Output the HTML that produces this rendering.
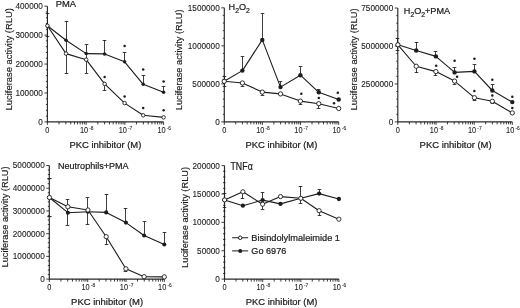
<!DOCTYPE html>
<html><head><meta charset="utf-8"><style>
html,body{margin:0;padding:0;background:#fff;width:520px;height:308px;overflow:hidden}
svg{display:block;will-change:transform;filter:blur(0.3px)}
text{stroke:#1c1c1c;stroke-width:0.22px}
.xl{stroke-width:0.08px}
.yl{stroke-width:0.1px}
.yt{stroke-width:0.16px}
</style></head><body>
<svg width="520" height="308" viewBox="0 0 520 308" font-family='"Liberation Sans", sans-serif' fill="#1c1c1c">
<rect width="520" height="308" fill="#fff"/>
<path d="M47.4 6.2V121.9H163.6" stroke="#2a2a2a" stroke-width="1.15" fill="none"/>
<text class="yl" x="42.8" y="124.85" text-anchor="end" font-size="8.2">0</text>
<text class="yl" x="42.8" y="95.93" text-anchor="end" font-size="8.2">100000</text>
<text class="yl" x="42.8" y="67" text-anchor="end" font-size="8.2">200000</text>
<text class="yl" x="42.8" y="38.08" text-anchor="end" font-size="8.2">300000</text>
<text class="yl" x="42.8" y="9.15" text-anchor="end" font-size="8.2">400000</text>
<path d="M44.4 121.9H47.4M45.9 116.12H47.4M45.9 110.33H47.4M45.9 104.55H47.4M45.9 98.76H47.4M44.4 92.98H47.4M45.9 87.19H47.4M45.9 81.41H47.4M45.9 75.62H47.4M45.9 69.84H47.4M44.4 64.05H47.4M45.9 58.27H47.4M45.9 52.48H47.4M45.9 46.7H47.4M45.9 40.91H47.4M44.4 35.12H47.4M45.9 29.34H47.4M45.9 23.56H47.4M45.9 17.77H47.4M45.9 11.98H47.4M44.4 6.2H47.4" stroke="#1c1c1c" stroke-width="0.85" fill="none"/>
<path d="M59.06 121.9V124.4M65.88 121.9V124.4M70.72 121.9V124.4M74.47 121.9V124.4M77.54 121.9V124.4M80.13 121.9V124.4M82.38 121.9V124.4M84.36 121.9V124.4M86.13 121.9V124.9M97.79 121.9V124.4M104.61 121.9V124.4M109.45 121.9V124.4M113.21 121.9V124.4M116.27 121.9V124.4M118.87 121.9V124.4M121.11 121.9V124.4M123.09 121.9V124.4M124.87 121.9V124.9M136.53 121.9V124.4M143.35 121.9V124.4M148.19 121.9V124.4M151.94 121.9V124.4M155.01 121.9V124.4M157.6 121.9V124.4M159.85 121.9V124.4M161.83 121.9V124.4M163.6 121.9V124.9M47.4 121.9V124.9" stroke="#1c1c1c" stroke-width="0.85" fill="none"/>
<text class="xl" transform="translate(47.4 133.2) scale(0.9 1)" text-anchor="middle" font-size="8.2">0</text>
<text class="xl" transform="translate(79.93 133.2) scale(0.9 1)" font-size="8.2">10<tspan font-size="5.4" dx="1.2" dy="-3.3">-8</tspan></text>
<text class="xl" transform="translate(118.67 133.2) scale(0.9 1)" font-size="8.2">10<tspan font-size="5.4" dx="1.2" dy="-3.3">-7</tspan></text>
<text class="xl" transform="translate(157.4 133.2) scale(0.9 1)" font-size="8.2">10<tspan font-size="5.4" dx="1.2" dy="-3.3">-6</tspan></text>
<text x="69.5" y="147.5" font-size="9.3" textLength="71.8" lengthAdjust="spacingAndGlyphs">PKC inhibitor (M)</text>
<text class="yt" transform="translate(11.6 110.4) rotate(-90)" font-size="9.9" textLength="102.3" lengthAdjust="spacingAndGlyphs">Luciferase activity (RLU)</text>
<text x="55.7" y="7.0" font-size="9.4">PMA</text>
<path d="M47.5 13.7V36M45.7 13.5H49.3M45.7 36.5H49.3M66.5 21.3V73.6M64.7 21.5H68.3M64.7 73.5H68.3M86.5 44.5V73M84.7 44.5H88.3M84.7 73.5H88.3M104.5 40V53.9M102.7 40.5H106.3M104.5 83.9V90.7M102.7 90.5H106.3M124.5 52V61.8M122.7 52.5H126.3M143.5 75.4V84.3M141.7 75.5H145.3M163.5 86.8V92.3M161.7 86.5H165.3" stroke="#1c1c1c" stroke-width="0.85" fill="none"/>
<path d="M47.4 25.75 L66 40.3 L86.2 53.6 L104.6 53.9 L124.6 61.8 L143.2 84.3 L163.6 92.3" stroke="#1c1c1c" stroke-width="1.1" fill="none" stroke-linejoin="round"/>
<path d="M47.4 25.75 L66 53.6 L86.2 59.7 L104.6 83.9 L124.6 103.1 L143.2 115.3 L163.6 117.4" stroke="#1c1c1c" stroke-width="1.1" fill="none" stroke-linejoin="round"/>
<circle cx="47.4" cy="25.75" r="1.75" fill="#1c1c1c"/>
<circle cx="66" cy="40.3" r="1.75" fill="#1c1c1c"/>
<circle cx="86.2" cy="53.6" r="1.75" fill="#1c1c1c"/>
<circle cx="104.6" cy="53.9" r="1.75" fill="#1c1c1c"/>
<circle cx="124.6" cy="61.8" r="1.75" fill="#1c1c1c"/>
<circle cx="143.2" cy="84.3" r="1.75" fill="#1c1c1c"/>
<circle cx="163.6" cy="92.3" r="1.75" fill="#1c1c1c"/>
<circle cx="47.4" cy="25.75" r="1.75" fill="#fff" stroke="#1c1c1c" stroke-width="0.9"/>
<circle cx="66" cy="53.6" r="1.75" fill="#fff" stroke="#1c1c1c" stroke-width="0.9"/>
<circle cx="86.2" cy="59.7" r="1.75" fill="#fff" stroke="#1c1c1c" stroke-width="0.9"/>
<circle cx="104.6" cy="83.9" r="1.75" fill="#fff" stroke="#1c1c1c" stroke-width="0.9"/>
<circle cx="124.6" cy="103.1" r="1.75" fill="#fff" stroke="#1c1c1c" stroke-width="0.9"/>
<circle cx="143.2" cy="115.3" r="1.75" fill="#fff" stroke="#1c1c1c" stroke-width="0.9"/>
<circle cx="163.6" cy="117.4" r="1.75" fill="#fff" stroke="#1c1c1c" stroke-width="0.9"/>
<circle cx="124.6" cy="45.9" r="1.25" fill="#1c1c1c"/>
<circle cx="143.2" cy="69.5" r="1.25" fill="#1c1c1c"/>
<circle cx="163.6" cy="81.5" r="1.25" fill="#1c1c1c"/>
<circle cx="104.6" cy="77" r="1.25" fill="#1c1c1c"/>
<circle cx="124.6" cy="96.4" r="1.25" fill="#1c1c1c"/>
<circle cx="143.2" cy="108.1" r="1.25" fill="#1c1c1c"/>
<circle cx="163.6" cy="110.2" r="1.25" fill="#1c1c1c"/>
<path d="M224.3 7.8V121.9H338.7" stroke="#2a2a2a" stroke-width="1.15" fill="none"/>
<text class="yl" x="219.7" y="124.85" text-anchor="end" font-size="8.2">0</text>
<text class="yl" x="219.7" y="86.82" text-anchor="end" font-size="8.2">500000</text>
<text class="yl" x="219.7" y="48.78" text-anchor="end" font-size="8.2">1000000</text>
<text class="yl" x="219.7" y="10.75" text-anchor="end" font-size="8.2">1500000</text>
<path d="M221.3 121.9H224.3M222.8 114.29H224.3M222.8 106.69H224.3M222.8 99.08H224.3M222.8 91.47H224.3M221.3 83.87H224.3M222.8 76.26H224.3M222.8 68.65H224.3M222.8 61.05H224.3M222.8 53.44H224.3M221.3 45.83H224.3M222.8 38.23H224.3M222.8 30.62H224.3M222.8 23.01H224.3M222.8 15.41H224.3M221.3 7.8H224.3" stroke="#1c1c1c" stroke-width="0.85" fill="none"/>
<path d="M235.69 121.9V124.4M242.41 121.9V124.4M247.18 121.9V124.4M250.88 121.9V124.4M253.9 121.9V124.4M256.45 121.9V124.4M258.67 121.9V124.4M260.62 121.9V124.4M262.37 121.9V124.9M273.86 121.9V124.4M280.58 121.9V124.4M285.35 121.9V124.4M289.04 121.9V124.4M292.07 121.9V124.4M294.62 121.9V124.4M296.83 121.9V124.4M298.79 121.9V124.4M300.53 121.9V124.9M312.02 121.9V124.4M318.74 121.9V124.4M323.51 121.9V124.4M327.21 121.9V124.4M330.23 121.9V124.4M332.79 121.9V124.4M335 121.9V124.4M336.95 121.9V124.4M338.7 121.9V124.9M224.3 121.9V124.9" stroke="#1c1c1c" stroke-width="0.85" fill="none"/>
<text class="xl" transform="translate(224.3 133.2) scale(0.9 1)" text-anchor="middle" font-size="8.2">0</text>
<text class="xl" transform="translate(256.17 133.2) scale(0.9 1)" font-size="8.2">10<tspan font-size="5.4" dx="1.2" dy="-3.3">-8</tspan></text>
<text class="xl" transform="translate(294.33 133.2) scale(0.9 1)" font-size="8.2">10<tspan font-size="5.4" dx="1.2" dy="-3.3">-7</tspan></text>
<text class="xl" transform="translate(332.5 133.2) scale(0.9 1)" font-size="8.2">10<tspan font-size="5.4" dx="1.2" dy="-3.3">-6</tspan></text>
<text x="245.5" y="147.5" font-size="9.3" textLength="71.8" lengthAdjust="spacingAndGlyphs">PKC inhibitor (M)</text>
<text class="yt" transform="translate(182.3 110.2) rotate(-90)" font-size="9.9" textLength="100.8" lengthAdjust="spacingAndGlyphs">Luciferase activity (RLU)</text>
<text x="228.6" y="9.9" font-size="9.1">H<tspan font-size="6.8" dy="3.1">2</tspan><tspan dy="-3.1">O</tspan><tspan font-size="6.8" dy="3.1">2</tspan></text>
<path d="M224.5 76.5V86M222.7 76.5H226.3M222.7 86.5H226.3M242.5 56.8V70.6M240.7 56.5H244.3M242.5 83V86M240.7 86.5H244.3M262.5 13.4V39.9M260.7 13.5H264.3M262.5 92.1V95.2M260.7 95.5H264.3M280.5 81.8V87.1M278.7 81.5H282.3M300.5 66.8V75.2M298.7 66.5H302.3M300.5 101.1V104.7M298.7 104.5H302.3M318.5 89.5V92.3M316.7 89.5H320.3M318.5 103.7V108.1M316.7 108.5H320.3" stroke="#1c1c1c" stroke-width="0.85" fill="none"/>
<path d="M224.2 81.3 L242.4 70.6 L262.3 39.9 L280.5 87.1 L300.4 75.2 L318.8 92.3 L338.7 99.5" stroke="#1c1c1c" stroke-width="1.1" fill="none" stroke-linejoin="round"/>
<path d="M224.2 81.3 L242.4 83 L262.3 92.1 L280.5 93.9 L300.4 101.1 L318.8 103.7 L338.7 108.5" stroke="#1c1c1c" stroke-width="1.1" fill="none" stroke-linejoin="round"/>
<circle cx="224.2" cy="81.3" r="2.2" fill="#1c1c1c"/>
<circle cx="242.4" cy="70.6" r="2.2" fill="#1c1c1c"/>
<circle cx="262.3" cy="39.9" r="2.2" fill="#1c1c1c"/>
<circle cx="280.5" cy="87.1" r="2.2" fill="#1c1c1c"/>
<circle cx="300.4" cy="75.2" r="2.2" fill="#1c1c1c"/>
<circle cx="318.8" cy="92.3" r="2.2" fill="#1c1c1c"/>
<circle cx="338.7" cy="99.5" r="2.2" fill="#1c1c1c"/>
<circle cx="224.2" cy="81.3" r="2.15" fill="#fff" stroke="#1c1c1c" stroke-width="0.9"/>
<circle cx="242.4" cy="83" r="2.15" fill="#fff" stroke="#1c1c1c" stroke-width="0.9"/>
<circle cx="262.3" cy="92.1" r="2.15" fill="#fff" stroke="#1c1c1c" stroke-width="0.9"/>
<circle cx="280.5" cy="93.9" r="2.15" fill="#fff" stroke="#1c1c1c" stroke-width="0.9"/>
<circle cx="300.4" cy="101.1" r="2.15" fill="#fff" stroke="#1c1c1c" stroke-width="0.9"/>
<circle cx="318.8" cy="103.7" r="2.15" fill="#fff" stroke="#1c1c1c" stroke-width="0.9"/>
<circle cx="338.7" cy="108.5" r="2.15" fill="#fff" stroke="#1c1c1c" stroke-width="0.9"/>
<circle cx="301.3" cy="93.8" r="1.25" fill="#1c1c1c"/>
<circle cx="318.8" cy="98" r="1.25" fill="#1c1c1c"/>
<circle cx="337.8" cy="92.7" r="1.25" fill="#1c1c1c"/>
<circle cx="334" cy="103.2" r="1.25" fill="#1c1c1c"/>
<path d="M397.8 8.05V121.9H512.3" stroke="#2a2a2a" stroke-width="1.15" fill="none"/>
<text class="yl" x="393.2" y="124.85" text-anchor="end" font-size="8.2">0</text>
<text class="yl" x="393.2" y="86.9" text-anchor="end" font-size="8.2">2500000</text>
<text class="yl" x="393.2" y="48.95" text-anchor="end" font-size="8.2">5000000</text>
<text class="yl" x="393.2" y="11" text-anchor="end" font-size="8.2">7500000</text>
<path d="M394.8 121.9H397.8M396.3 114.31H397.8M396.3 106.72H397.8M396.3 99.13H397.8M396.3 91.54H397.8M394.8 83.95H397.8M396.3 76.36H397.8M396.3 68.77H397.8M396.3 61.18H397.8M396.3 53.59H397.8M394.8 46H397.8M396.3 38.41H397.8M396.3 30.82H397.8M396.3 23.23H397.8M396.3 15.64H397.8M394.8 8.05H397.8" stroke="#1c1c1c" stroke-width="0.85" fill="none"/>
<path d="M409.38 121.9V124.4M416.09 121.9V124.4M420.86 121.9V124.4M424.55 121.9V124.4M427.57 121.9V124.4M430.13 121.9V124.4M432.34 121.9V124.4M434.29 121.9V124.4M436.03 121.9V124.9M447.51 121.9V124.4M454.23 121.9V124.4M458.99 121.9V124.4M462.69 121.9V124.4M465.71 121.9V124.4M468.26 121.9V124.4M470.47 121.9V124.4M472.42 121.9V124.4M474.17 121.9V124.9M485.65 121.9V124.4M492.36 121.9V124.4M497.13 121.9V124.4M500.82 121.9V124.4M503.84 121.9V124.4M506.39 121.9V124.4M508.6 121.9V124.4M510.56 121.9V124.4M512.3 121.9V124.9M397.8 121.9V124.9" stroke="#1c1c1c" stroke-width="0.85" fill="none"/>
<text class="xl" transform="translate(397.8 133.2) scale(0.9 1)" text-anchor="middle" font-size="8.2">0</text>
<text class="xl" transform="translate(429.83 133.2) scale(0.9 1)" font-size="8.2">10<tspan font-size="5.4" dx="1.2" dy="-3.3">-8</tspan></text>
<text class="xl" transform="translate(467.97 133.2) scale(0.9 1)" font-size="8.2">10<tspan font-size="5.4" dx="1.2" dy="-3.3">-7</tspan></text>
<text class="xl" transform="translate(506.1 133.2) scale(0.9 1)" font-size="8.2">10<tspan font-size="5.4" dx="1.2" dy="-3.3">-6</tspan></text>
<text x="419.6" y="147.5" font-size="9.3" textLength="72" lengthAdjust="spacingAndGlyphs">PKC inhibitor (M)</text>
<text class="yt" transform="translate(357.2 110.4) rotate(-90)" font-size="9.9" textLength="102" lengthAdjust="spacingAndGlyphs">Luciferase activity (RLU)</text>
<text x="403.8" y="14.3" font-size="9.1">H<tspan font-size="6.8" dy="3.1">2</tspan><tspan dy="-3.1">O</tspan><tspan font-size="6.8" dy="3.1">2</tspan><tspan dy="-3.1">+PMA</tspan></text>
<path d="M397.5 38.6V50M395.7 38.5H399.3M395.7 50.5H399.3M416.5 42.1V50.5M414.7 42.5H418.3M416.5 66.25V72.9M414.7 72.5H418.3M435.5 51.8V56.4M433.7 51.5H437.3M435.5 71.6V75.5M433.7 75.5H437.3M454.5 67.9V72.4M452.7 67.5H456.3M454.5 81.1V84M452.7 84.5H456.3M474.5 64.6V71.4M472.7 64.5H476.3M474.5 97.7V100.4M472.7 100.5H476.3M492.5 84.6V90.5M490.7 84.5H494.3M492.5 101.25V103.9M490.7 103.5H494.3" stroke="#1c1c1c" stroke-width="0.85" fill="none"/>
<path d="M397.9 44.8 L416.2 50.5 L435.9 56.4 L454.6 72.4 L474.4 71.4 L492.3 90.5 L512.3 102.1" stroke="#1c1c1c" stroke-width="1.1" fill="none" stroke-linejoin="round"/>
<path d="M397.9 44.8 L416.2 66.25 L435.9 71.6 L454.6 81.1 L474.4 97.7 L492.3 101.25 L512.3 112.9" stroke="#1c1c1c" stroke-width="1.1" fill="none" stroke-linejoin="round"/>
<circle cx="397.9" cy="44.8" r="2.2" fill="#1c1c1c"/>
<circle cx="416.2" cy="50.5" r="2.2" fill="#1c1c1c"/>
<circle cx="435.9" cy="56.4" r="2.2" fill="#1c1c1c"/>
<circle cx="454.6" cy="72.4" r="2.2" fill="#1c1c1c"/>
<circle cx="474.4" cy="71.4" r="2.2" fill="#1c1c1c"/>
<circle cx="492.3" cy="90.5" r="2.2" fill="#1c1c1c"/>
<circle cx="512.3" cy="102.1" r="2.2" fill="#1c1c1c"/>
<circle cx="397.9" cy="44.8" r="2.15" fill="#fff" stroke="#1c1c1c" stroke-width="0.9"/>
<circle cx="416.2" cy="66.25" r="2.15" fill="#fff" stroke="#1c1c1c" stroke-width="0.9"/>
<circle cx="435.9" cy="71.6" r="2.15" fill="#fff" stroke="#1c1c1c" stroke-width="0.9"/>
<circle cx="454.6" cy="81.1" r="2.15" fill="#fff" stroke="#1c1c1c" stroke-width="0.9"/>
<circle cx="474.4" cy="97.7" r="2.15" fill="#fff" stroke="#1c1c1c" stroke-width="0.9"/>
<circle cx="492.3" cy="101.25" r="2.15" fill="#fff" stroke="#1c1c1c" stroke-width="0.9"/>
<circle cx="512.3" cy="112.9" r="2.15" fill="#fff" stroke="#1c1c1c" stroke-width="0.9"/>
<circle cx="436.2" cy="65.7" r="1.25" fill="#1c1c1c"/>
<circle cx="454.6" cy="60.7" r="1.25" fill="#1c1c1c"/>
<circle cx="474.4" cy="58.8" r="1.25" fill="#1c1c1c"/>
<circle cx="457.1" cy="76.7" r="1.25" fill="#1c1c1c"/>
<circle cx="474.4" cy="91" r="1.25" fill="#1c1c1c"/>
<circle cx="492.3" cy="79.8" r="1.25" fill="#1c1c1c"/>
<circle cx="492.3" cy="95.4" r="1.25" fill="#1c1c1c"/>
<circle cx="512.3" cy="96.8" r="1.25" fill="#1c1c1c"/>
<circle cx="512.3" cy="107.9" r="1.25" fill="#1c1c1c"/>
<path d="M49.3 165.5V279.1H164.3" stroke="#2a2a2a" stroke-width="1.15" fill="none"/>
<text class="yl" x="44.7" y="282.05" text-anchor="end" font-size="8.2">0</text>
<text class="yl" x="44.7" y="259.33" text-anchor="end" font-size="8.2">1000000</text>
<text class="yl" x="44.7" y="236.61" text-anchor="end" font-size="8.2">2000000</text>
<text class="yl" x="44.7" y="213.89" text-anchor="end" font-size="8.2">3000000</text>
<text class="yl" x="44.7" y="191.17" text-anchor="end" font-size="8.2">4000000</text>
<text class="yl" x="44.7" y="168.45" text-anchor="end" font-size="8.2">5000000</text>
<path d="M46.3 279.1H49.3M47.8 274.56H49.3M47.8 270.01H49.3M47.8 265.47H49.3M47.8 260.92H49.3M46.3 256.38H49.3M47.8 251.84H49.3M47.8 247.29H49.3M47.8 242.75H49.3M47.8 238.2H49.3M46.3 233.66H49.3M47.8 229.12H49.3M47.8 224.57H49.3M47.8 220.03H49.3M47.8 215.48H49.3M46.3 210.94H49.3M47.8 206.4H49.3M47.8 201.85H49.3M47.8 197.31H49.3M47.8 192.76H49.3M46.3 188.22H49.3M47.8 183.68H49.3M47.8 179.13H49.3M47.8 174.59H49.3M47.8 170.04H49.3M46.3 165.5H49.3" stroke="#1c1c1c" stroke-width="0.85" fill="none"/>
<path d="M60.93 279.1V281.6M67.67 279.1V281.6M72.46 279.1V281.6M76.17 279.1V281.6M79.2 279.1V281.6M81.77 279.1V281.6M83.99 279.1V281.6M85.95 279.1V281.6M87.7 279.1V282.1M99.23 279.1V281.6M105.97 279.1V281.6M110.76 279.1V281.6M114.47 279.1V281.6M117.5 279.1V281.6M120.07 279.1V281.6M122.29 279.1V281.6M124.25 279.1V281.6M126 279.1V282.1M137.53 279.1V281.6M144.27 279.1V281.6M149.06 279.1V281.6M152.77 279.1V281.6M155.8 279.1V281.6M158.37 279.1V281.6M160.59 279.1V281.6M162.55 279.1V281.6M164.3 279.1V282.1M49.3 279.1V282.1" stroke="#1c1c1c" stroke-width="0.85" fill="none"/>
<text class="xl" transform="translate(49.3 290.4) scale(0.9 1)" text-anchor="middle" font-size="8.2">0</text>
<text class="xl" transform="translate(81.5 290.4) scale(0.9 1)" font-size="8.2">10<tspan font-size="5.4" dx="1.2" dy="-3.3">-8</tspan></text>
<text class="xl" transform="translate(119.8 290.4) scale(0.9 1)" font-size="8.2">10<tspan font-size="5.4" dx="1.2" dy="-3.3">-7</tspan></text>
<text class="xl" transform="translate(158.1 290.4) scale(0.9 1)" font-size="8.2">10<tspan font-size="5.4" dx="1.2" dy="-3.3">-6</tspan></text>
<text x="71.1" y="305.2" font-size="9.3" textLength="72" lengthAdjust="spacingAndGlyphs">PKC inhibitor (M)</text>
<text class="yt" transform="translate(8.1 267.5) rotate(-90)" font-size="9.9" textLength="101.1" lengthAdjust="spacingAndGlyphs">Luciferase activity (RLU)</text>
<text x="58.0" y="169.3" font-size="9.2" textLength="70.6" lengthAdjust="spacingAndGlyphs">Neutrophils+PMA</text>
<path d="M67.5 199.3V225.2M65.7 199.5H69.3M65.7 225.5H69.3M87.5 197.9V224.3M85.7 197.5H89.3M85.7 224.5H89.3M106.5 194.5V212.4M104.7 194.5H108.3M106.5 236.7V244.7M104.7 244.5H108.3M125.5 208.2V222.6M123.7 208.5H127.3M125.5 268.8V271.4M123.7 271.5H127.3M144.5 221.8V235.5M142.7 221.5H146.3M164.5 232V244.5M162.7 232.5H166.3" stroke="#1c1c1c" stroke-width="0.85" fill="none"/>
<path d="M49.4 197.5 L67.9 212.7 L87.9 211.8 L106.2 212.4 L125.9 222.6 L144.1 235.5 L164.3 244.5" stroke="#1c1c1c" stroke-width="1.1" fill="none" stroke-linejoin="round"/>
<path d="M49.4 197.5 L67.9 206.8 L87.9 210 L106.2 236.7 L125.9 268.8 L144.1 276.7 L164.3 276.9" stroke="#1c1c1c" stroke-width="1.1" fill="none" stroke-linejoin="round"/>
<circle cx="49.4" cy="197.5" r="2.05" fill="#1c1c1c"/>
<circle cx="67.9" cy="212.7" r="2.05" fill="#1c1c1c"/>
<circle cx="87.9" cy="211.8" r="2.05" fill="#1c1c1c"/>
<circle cx="106.2" cy="212.4" r="2.05" fill="#1c1c1c"/>
<circle cx="125.9" cy="222.6" r="2.05" fill="#1c1c1c"/>
<circle cx="144.1" cy="235.5" r="2.05" fill="#1c1c1c"/>
<circle cx="164.3" cy="244.5" r="2.05" fill="#1c1c1c"/>
<circle cx="49.4" cy="197.5" r="2.15" fill="#fff" stroke="#1c1c1c" stroke-width="0.9"/>
<circle cx="67.9" cy="206.8" r="2.15" fill="#fff" stroke="#1c1c1c" stroke-width="0.9"/>
<circle cx="87.9" cy="210" r="2.15" fill="#fff" stroke="#1c1c1c" stroke-width="0.9"/>
<circle cx="106.2" cy="236.7" r="2.15" fill="#fff" stroke="#1c1c1c" stroke-width="0.9"/>
<circle cx="125.9" cy="268.8" r="2.15" fill="#fff" stroke="#1c1c1c" stroke-width="0.9"/>
<circle cx="144.1" cy="276.7" r="2.15" fill="#fff" stroke="#1c1c1c" stroke-width="0.9"/>
<circle cx="164.3" cy="276.9" r="2.15" fill="#fff" stroke="#1c1c1c" stroke-width="0.9"/>
<path d="M224.5 165.6V279.1H338.9" stroke="#2a2a2a" stroke-width="1.15" fill="none"/>
<text class="yl" x="219.9" y="282.05" text-anchor="end" font-size="8.2">0</text>
<text class="yl" x="219.9" y="253.68" text-anchor="end" font-size="8.2">50000</text>
<text class="yl" x="219.9" y="225.3" text-anchor="end" font-size="8.2">100000</text>
<text class="yl" x="219.9" y="196.93" text-anchor="end" font-size="8.2">150000</text>
<text class="yl" x="219.9" y="168.55" text-anchor="end" font-size="8.2">200000</text>
<path d="M221.5 279.1H224.5M223 273.43H225.4M223 267.75H225.4M223 262.08H225.4M223 256.4H225.4M221.5 250.73H224.5M223 245.05H225.4M223 239.38H225.4M223 233.7H225.4M223 228.03H225.4M221.5 222.35H224.5M223 216.68H225.4M223 211H225.4M223 205.32H225.4M223 199.65H225.4M221.5 193.98H224.5M223 188.3H225.4M223 182.62H225.4M223 176.95H225.4M223 171.28H225.4M221.5 165.6H224.5" stroke="#1c1c1c" stroke-width="0.85" fill="none"/>
<path d="M236.07 279.1V281.6M242.78 279.1V281.6M247.54 279.1V281.6M251.23 279.1V281.6M254.25 279.1V281.6M256.8 279.1V281.6M259.01 279.1V281.6M260.96 279.1V281.6M262.7 279.1V282.1M274.17 279.1V281.6M280.88 279.1V281.6M285.64 279.1V281.6M289.33 279.1V281.6M292.35 279.1V281.6M294.9 279.1V281.6M297.11 279.1V281.6M299.06 279.1V281.6M300.8 279.1V282.1M312.27 279.1V281.6M318.98 279.1V281.6M323.74 279.1V281.6M327.43 279.1V281.6M330.45 279.1V281.6M333 279.1V281.6M335.21 279.1V281.6M337.16 279.1V281.6M338.9 279.1V282.1M224.5 279.1V282.1" stroke="#1c1c1c" stroke-width="0.85" fill="none"/>
<text class="xl" transform="translate(224.5 290.4) scale(0.9 1)" text-anchor="middle" font-size="8.2">0</text>
<text class="xl" transform="translate(256.5 290.4) scale(0.9 1)" font-size="8.2">10<tspan font-size="5.4" dx="1.2" dy="-3.3">-8</tspan></text>
<text class="xl" transform="translate(294.6 290.4) scale(0.9 1)" font-size="8.2">10<tspan font-size="5.4" dx="1.2" dy="-3.3">-7</tspan></text>
<text class="xl" transform="translate(332.7 290.4) scale(0.9 1)" font-size="8.2">10<tspan font-size="5.4" dx="1.2" dy="-3.3">-6</tspan></text>
<text x="245.8" y="305.2" font-size="9.3" textLength="71.6" lengthAdjust="spacingAndGlyphs">PKC inhibitor (M)</text>
<text class="yt" transform="translate(187.7 267.9) rotate(-90)" font-size="9.9" textLength="101" lengthAdjust="spacingAndGlyphs">Luciferase activity (RLU)</text>
<text transform="translate(230.5 169.8) scale(0.86 1)" font-size="10.2">TNF<tspan dx="0.3">α</tspan></text>
<path d="M224.5 193.1V207.3M222.7 193.5H226.3M222.7 207.5H226.3M242.5 191.8V198.4M240.7 198.5H244.3M262.5 192.5V209.4M260.7 192.5H264.3M260.7 209.5H264.3M300.5 186.1V203.8M298.7 186.5H302.3M298.7 203.5H302.3M319.5 189.9V193.6M317.7 189.5H321.3M319.5 210.7V215.4M317.7 215.5H321.3" stroke="#1c1c1c" stroke-width="0.85" fill="none"/>
<path d="M224.6 199.9 L242.9 205.7 L262.6 200.1 L280.5 203.9 L300.8 198.3 L319.1 193.6 L338.9 199" stroke="#1c1c1c" stroke-width="1.1" fill="none" stroke-linejoin="round"/>
<path d="M224.6 199.9 L242.9 191.8 L262.6 204.2 L280.5 196.6 L300.8 198.3 L319.1 210.7 L338.9 219.2" stroke="#1c1c1c" stroke-width="1.1" fill="none" stroke-linejoin="round"/>
<circle cx="224.6" cy="199.9" r="2.15" fill="#1c1c1c"/>
<circle cx="242.9" cy="205.7" r="2.15" fill="#1c1c1c"/>
<circle cx="262.6" cy="200.1" r="2.15" fill="#1c1c1c"/>
<circle cx="280.5" cy="203.9" r="2.15" fill="#1c1c1c"/>
<circle cx="300.8" cy="198.3" r="2.15" fill="#1c1c1c"/>
<circle cx="319.1" cy="193.6" r="2.15" fill="#1c1c1c"/>
<circle cx="338.9" cy="199" r="2.15" fill="#1c1c1c"/>
<circle cx="224.6" cy="199.9" r="2.1" fill="#fff" stroke="#1c1c1c" stroke-width="0.9"/>
<circle cx="242.9" cy="191.8" r="2.1" fill="#fff" stroke="#1c1c1c" stroke-width="0.9"/>
<circle cx="262.6" cy="204.2" r="2.1" fill="#fff" stroke="#1c1c1c" stroke-width="0.9"/>
<circle cx="280.5" cy="196.6" r="2.1" fill="#fff" stroke="#1c1c1c" stroke-width="0.9"/>
<circle cx="300.8" cy="198.3" r="2.1" fill="#fff" stroke="#1c1c1c" stroke-width="0.9"/>
<circle cx="319.1" cy="210.7" r="2.1" fill="#fff" stroke="#1c1c1c" stroke-width="0.9"/>
<circle cx="338.9" cy="219.2" r="2.1" fill="#fff" stroke="#1c1c1c" stroke-width="0.9"/>
<path d="M232.1 237.75H248.1M232.1 250.9H248.1" stroke="#1c1c1c" stroke-width="1"/>
<circle cx="240.25" cy="237.75" r="1.75" fill="#fff" stroke="#1c1c1c" stroke-width="1"/>
<circle cx="240.25" cy="250.9" r="2.0" fill="#1c1c1c"/>
<path d="M47.3 178.6H51.6M47.3 216.6H51.6" stroke="#1c1c1c" stroke-width="1"/>
<text x="251.3" y="240.5" font-size="9.2" textLength="88.7" lengthAdjust="spacingAndGlyphs">Bisindolylmaleimide 1</text>
<text x="251.3" y="253.6" font-size="9.2" textLength="35" lengthAdjust="spacingAndGlyphs">Go 6976</text>
</svg>
</body></html>
